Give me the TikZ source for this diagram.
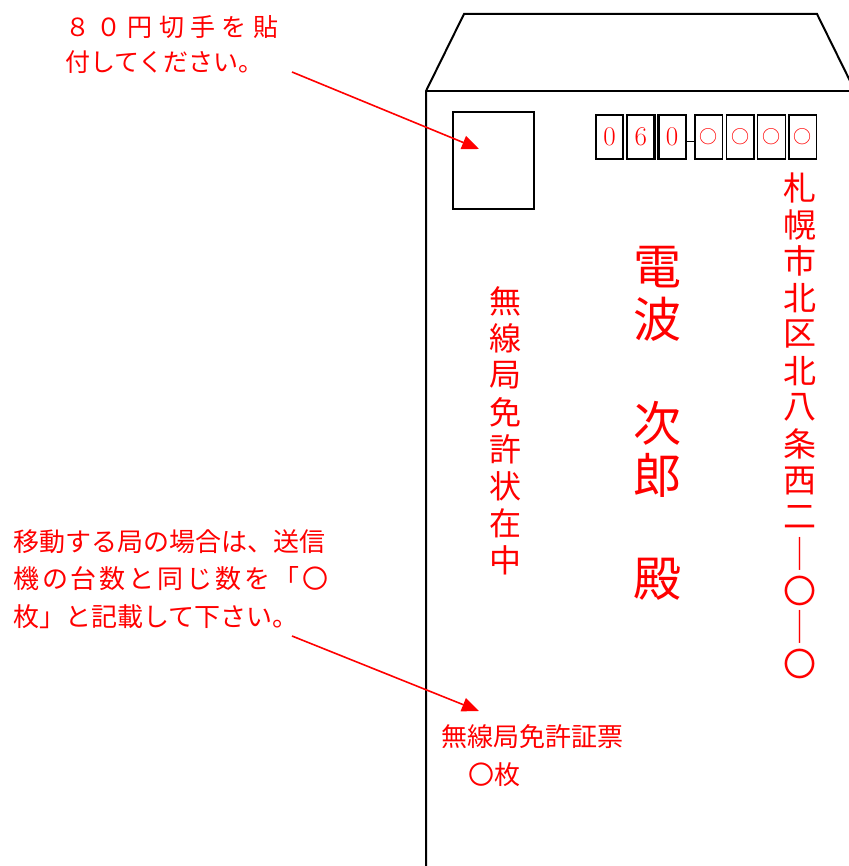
\documentclass[tikz,border=0pt]{standalone}
\usepackage{fontspec}
\newfontfamily\jp{Noto Sans CJK JP}
\usetikzlibrary{arrows.meta,positioning}

% spread the characters of a line by a fixed gap
\makeatletter
\newcommand\spaced[2]{\def\spaced@gap{\hspace{#1}}\spaced@loop#2\@nil}
\def\spaced@loop#1#2\@nil{#1\ifx\relax#2\relax\else\spaced@gap\spaced@loop#2\@nil\fi}
\makeatother

\tikzset{
  note/.style={text=red, font=\jp\fontsize{25}{35}\selectfont, inner sep=0pt, anchor=west, align=left},
  tate/.style={text=red, font=\jp\fontsize{33}{36}\selectfont, inner sep=0pt},
  zipbox/.style={draw, line width=1.3pt, minimum width=27.5pt, minimum height=44pt, inner sep=0pt, text=red},
  pointer/.style={draw=red, line width=1.6pt, -{Triangle[length=17pt,width=14pt]}}
}

\begin{document}
\begin{tikzpicture}[x=1pt, y=-1pt]
    \useasboundingbox (0,0) rectangle (848,866);

    % envelope and flap
    \coordinate (flapL) at (426,91);
    \coordinate (flapR) at (855,91);
    \draw[line width=2pt] (426,866) -- (flapL) -- (464,14) -- (817,14) -- (flapR);
    \draw[line width=2pt] (flapL) -- (flapR);

    % stamp place
    \node[draw, line width=2pt, minimum width=81pt, minimum height=97pt, anchor=north west] (stamp) at (452,111) {};

    % postal code
    \foreach \d [count=\i] in {0,6,0}
        \node[zipbox, line width=2.3pt, font=\fontsize{27}{27}\selectfont] (zip\i) at ({609.5+31.3*(\i-1)},137) {\d};
    \foreach \i in {4,...,7}
        \node[zipbox, font=\jp\fontsize{18}{18}\selectfont] (zip\i) at ({708.8+31.3*(\i-4)},137) {○};
    \draw[line width=1.5pt] ([yshift=-4.5pt]zip3.east) -- ([yshift=-4.5pt]zip4.west);

    % address, name, license
    \foreach \c [count=\i from 0] in {札,幌,市,北,区,北,八,条,西,二,｜,〇,｜,〇}
        \node[tate] (addr\i) at (800,{188+36.6*\i}) {\c};
    \foreach \c/\k in {電/0,波/1,次/3,郎/4,殿/6}
        \node[tate, font=\jp\fontsize{48}{52}\selectfont] (name\k) at (657,{267+52*\k}) {\c};
    \foreach \c [count=\i from 0] in {無,線,局,免,許,状,在,中}
        \node[tate, font=\jp\fontsize{32}{36}\selectfont] (lic\i) at (505,{301+37*\i}) {\c};

    % slip on the back
    \node[note, font=\jp\fontsize{26}{38}\selectfont] (slip) at (441,737) {無線局免許証票};
    \node[note, font=\jp\fontsize{26}{38}\selectfont] (slipcount) at (468,775) {〇枚};

    % notes
    \node[note] (stampnote) at (65,45) {\spaced{6.3pt}{８０円切手を貼}\\付してください。};
    \node[note, font=\jp\fontsize{26}{37.5}\selectfont] (countnote) at (13,579)
        {移動する局の場合は、送信\\\spaced{2.9pt}{機の台数と同じ数を「〇}\\枚」と記載して下さい。};

    \coordinate (stamptail) at (292,72);
    \coordinate (stamptip) at (479,149);
    \coordinate (slipail) at (292,636);
    \coordinate (sliptip) at (479,711);
    \draw[pointer] (stamptail) -- (stamptip);
    \draw[pointer] (slipail) -- (sliptip);
\end{tikzpicture}
\end{document}
